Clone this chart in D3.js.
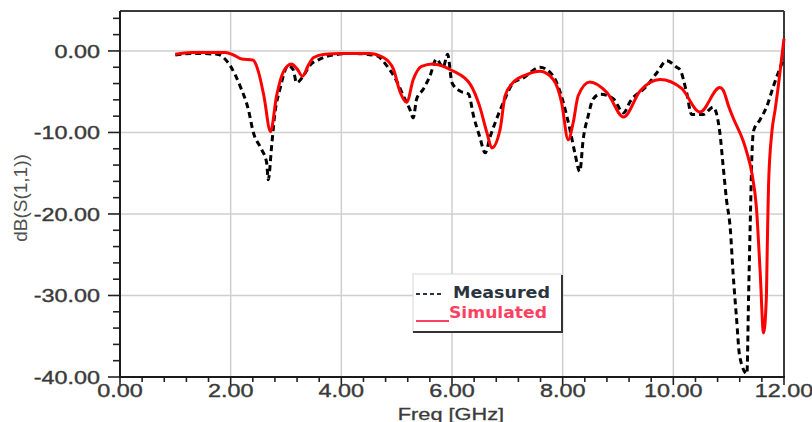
<!DOCTYPE html>
<html>
<head>
<meta charset="utf-8">
<script src="https://cdn.jsdelivr.net/npm/d3@7/dist/d3.min.js"></script>
<style>
  html, body { margin: 0; padding: 0; background: #ffffff; }
  svg { display: block; }
</style>
</head>
<body>
<svg id="chart" width="812" height="422"></svg>
<script>
// ---- data ----
const measuredFreq = [1.0,1.3,1.75,1.99,2.17,2.32,2.41,2.56,2.65,2.68,2.74,2.8,2.89,3.04,3.13,3.19,3.31,3.43,3.61,3.86,4.2,4.64,4.82,5.0,5.12,5.24,5.3,5.36,5.48,5.6,5.72,5.84,5.92,6.0,6.14,6.3,6.39,6.5,6.6,6.69,6.78,6.93,7.11,7.29,7.59,7.83,8.01,8.13,8.22,8.31,8.37,8.46,8.55,8.68,8.92,9.1,9.22,9.52,9.7,9.88,10.06,10.12,10.24,10.33,10.54,10.72,10.84,10.9,10.96,11.03,11.08,11.14,11.2,11.33,11.36,11.39,11.42,11.45,11.57,11.69,11.81,11.99];
const measuredDb = [-0.5,-0.3,-0.4,-1.8,-4.3,-7.2,-10.0,-12.1,-13.7,-15.8,-11.7,-7.6,-4.7,-1.8,-2.3,-3.9,-3.1,-1.8,-1.0,-0.5,-0.3,-0.6,-1.8,-3.7,-5.5,-7.2,-8.2,-5.9,-4.7,-3.1,-1.0,-2.0,-0.4,-3.9,-4.9,-5.3,-8.0,-10.5,-12.5,-10.5,-8.8,-6.3,-3.9,-3.3,-2.0,-3.1,-6.3,-9.6,-12.5,-14.8,-10.9,-8.0,-5.9,-5.3,-5.9,-7.6,-6.2,-4.3,-2.7,-1.2,-2.0,-2.3,-5.1,-7.8,-7.8,-6.9,-10.0,-14.1,-18.2,-21.9,-27.3,-32.6,-37.5,-39.6,-30.1,-21.1,-12.9,-9.8,-8.4,-6.8,-4.3,-1.0];

const simulatedFreq = [1.0,1.3,1.6,1.9,2.05,2.2,2.4,2.5,2.6,2.72,2.83,2.95,3.1,3.2,3.3,3.4,3.5,3.7,4.0,4.5,4.76,4.94,5.06,5.18,5.3,5.45,5.65,6.0,6.33,6.5,6.63,6.72,6.87,6.96,7.1,7.35,7.59,7.83,7.98,8.1,8.19,8.28,8.49,8.8,9.1,9.4,9.76,10.15,10.48,10.84,10.9,11.0,11.08,11.26,11.33,11.42,11.5,11.57,11.63,11.68,11.7,11.72,11.78,11.84,11.89,12.0];
const simulatedDb = [-0.4,-0.2,-0.2,-0.2,-0.5,-1.0,-1.1,-2.5,-5.5,-9.9,-5.5,-2.6,-1.6,-2.2,-3.1,-1.8,-0.8,-0.4,-0.3,-0.3,-0.8,-2.2,-5.0,-6.3,-3.5,-1.9,-1.6,-2.4,-4.1,-6.8,-10.0,-11.9,-9.6,-5.5,-3.9,-2.9,-2.5,-3.5,-6.3,-10.9,-8.8,-5.5,-3.8,-5.1,-8.1,-4.9,-3.5,-4.6,-7.5,-4.5,-4.8,-6.8,-8.2,-11.0,-12.5,-15.0,-19.1,-27.2,-34.6,-30.5,-23.2,-16.6,-10.0,-7.2,-4.7,1.5];

const xTickValues = [0, 2, 4, 6, 8, 10, 12];
const yTickValues = [0, -10, -20, -30, -40];
const seriesNames = ["Measured", "Simulated"];
const xTitle = "Freq [GHz]";
const yTitle = "dB(S(1,1))";

// ---- layout ----
const L = 120, R = 784, T = 11, B = 377;
const svg = d3.select("#chart");
const x = d3.scaleLinear().domain([0, 12]).range([L, R]);
const y = d3.scaleLinear().domain([-40, 4.9]).range([B, T]);
const fmt = d3.formatLocale({decimal: ".", thousands: ",", grouping: [3], currency: ["", ""], minus: "-"}).format(".2f");
const STRETCH = 1.23;
const FONT = "Liberation Sans, Arial, sans-serif";

// grid
const g = svg.append("g");
g.selectAll("line.vg").data(xTickValues.filter(v => v > 0 && v < 12)).join("line")
  .attr("x1", d => x(d)).attr("x2", d => x(d)).attr("y1", T).attr("y2", B)
  .attr("stroke", "#cfcfcf").attr("stroke-width", 1.5);
g.selectAll("line.hg").data(yTickValues.filter(v => v > -40)).join("line")
  .attr("x1", L).attr("x2", R).attr("y1", d => y(d)).attr("y2", d => y(d))
  .attr("stroke", "#cfcfcf").attr("stroke-width", 1.5);

// minor ticks
const xMinor = d3.range(0, 12.001, 0.4).map(v => +v.toFixed(2));
const yMinor = d3.range(-40, 4.001, 2);
svg.append("g").selectAll("line").data(xMinor).join("line")
  .attr("x1", d => x(d)).attr("x2", d => x(d))
  .attr("y1", B).attr("y2", d => xTickValues.includes(d) ? B + 8 : B + 5)
  .attr("stroke", "#222").attr("stroke-width", 1.6);
svg.append("g").selectAll("line").data(yMinor).join("line")
  .attr("y1", d => y(d)).attr("y2", d => y(d))
  .attr("x1", d => (d % 10 === 0) ? L - 12 : L - 7).attr("x2", L)
  .attr("stroke", "#222").attr("stroke-width", 1.6);

// frame
svg.append("line").attr("x1", L).attr("x2", R).attr("y1", T).attr("y2", T).attr("stroke", "#3a3a3a").attr("stroke-width", 2);
svg.append("line").attr("x1", R).attr("x2", R).attr("y1", T).attr("y2", B).attr("stroke", "#3a3a3a").attr("stroke-width", 2);
svg.append("line").attr("x1", L).attr("x2", L).attr("y1", T).attr("y2", B + 1).attr("stroke", "#1a1a1a").attr("stroke-width", 2);
svg.append("line").attr("x1", L - 1).attr("x2", R + 1).attr("y1", B).attr("y2", B).attr("stroke", "#1a1a1a").attr("stroke-width", 2);

// tick labels
svg.append("g").selectAll("text").data(yTickValues).join("text")
  .attr("transform", d => `translate(100,${y(d) + 7}) scale(${STRETCH},1)`)
  .attr("text-anchor", "end")
  .attr("font-family", FONT).attr("font-size", 19)
  .attr("fill", "#3a3a3a").attr("stroke", "#3a3a3a").attr("stroke-width", 0.4)
  .text(d => fmt(d));
svg.append("g").selectAll("text").data(xTickValues).join("text")
  .attr("transform", d => `translate(${x(d)},397) scale(${STRETCH},1)`)
  .attr("text-anchor", "middle")
  .attr("font-family", FONT).attr("font-size", 19)
  .attr("fill", "#3a3a3a").attr("stroke", "#3a3a3a").attr("stroke-width", 0.4)
  .text(d => fmt(d));

// axis titles
svg.append("text").attr("transform", `translate(451,420) scale(1.28,1)`)
  .attr("text-anchor", "middle")
  .attr("font-family", FONT).attr("font-size", 17)
  .attr("fill", "#3a3a3a").attr("stroke", "#3a3a3a").attr("stroke-width", 0.3)
  .text(xTitle);
svg.append("text").attr("transform", "translate(27,198) rotate(-90)")
  .attr("text-anchor", "middle")
  .attr("font-family", FONT).attr("font-size", 19)
  .attr("fill", "#505050").text(yTitle);

// legend
const lg = svg.append("g");
lg.append("rect").attr("x", 413).attr("y", 274).attr("width", 149).attr("height", 58)
  .attr("fill", "#ffffff").attr("stroke", "#d8d8d8").attr("stroke-width", 1);
lg.append("line").attr("x1", 413).attr("x2", 563).attr("y1", 332).attr("y2", 332).attr("stroke", "#333").attr("stroke-width", 2);
lg.append("line").attr("x1", 562).attr("x2", 562).attr("y1", 275).attr("y2", 333).attr("stroke", "#333").attr("stroke-width", 2);
lg.append("line").attr("x1", 416).attr("x2", 442).attr("y1", 294).attr("y2", 294)
  .attr("stroke", "#2a3440").attr("stroke-width", 2).attr("stroke-dasharray", "4,3");
lg.append("text").attr("x", 453).attr("y", 298).attr("textLength", 97).attr("lengthAdjust", "spacingAndGlyphs")
  .attr("font-family", "DejaVu Sans, sans-serif").attr("font-weight", "bold").attr("font-size", 15)
  .attr("fill", "#2a3440").text(seriesNames[0]);
lg.append("line").attr("x1", 416).attr("x2", 449).attr("y1", 321).attr("y2", 321)
  .attr("stroke", "#ff4060").attr("stroke-width", 2);
lg.append("text").attr("x", 449).attr("y", 318).attr("textLength", 98).attr("lengthAdjust", "spacingAndGlyphs")
  .attr("font-family", "DejaVu Sans, sans-serif").attr("font-weight", "bold").attr("font-size", 15)
  .attr("fill", "#ff4060").text(seriesNames[1]);

// curves
const line = d3.line().x(d => x(d[0])).y(d => y(d[1])).curve(d3.curveMonotoneX);
const measured = measuredFreq.map((f, i) => [f, measuredDb[i]]);
const simulated = simulatedFreq.map((f, i) => [f, simulatedDb[i]]);
svg.append("path").datum(measured).attr("d", line)
  .attr("fill", "none").attr("stroke", "#000").attr("stroke-width", 3)
  .attr("stroke-dasharray", "6,4");
svg.append("path").datum(simulated).attr("d", line)
  .attr("fill", "none").attr("stroke", "#ff0000").attr("stroke-width", 3);
</script>
</body>
</html>
